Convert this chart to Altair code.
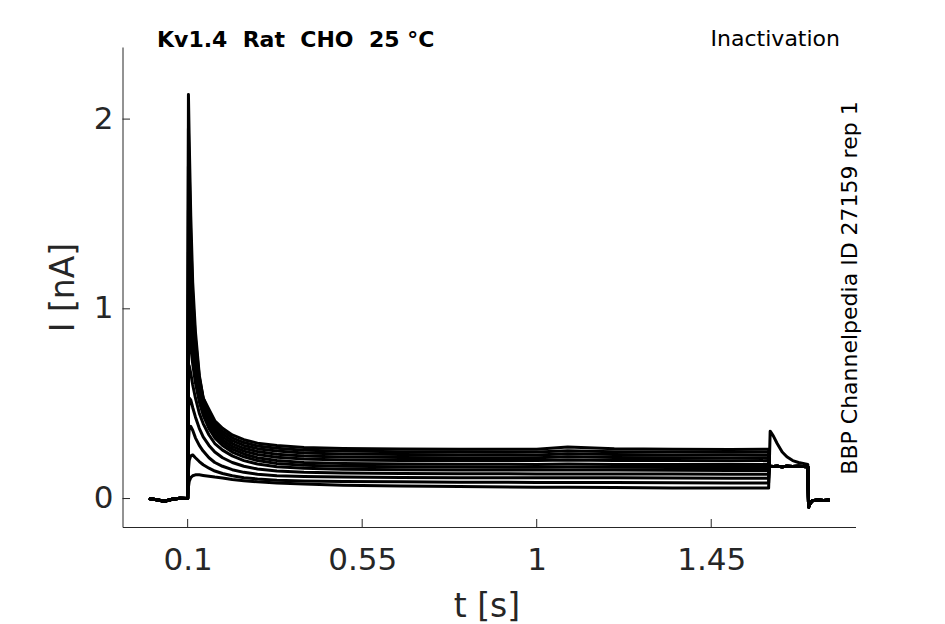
import altair as alt
import pandas as pd

# ---- data (time in s, current in nA) ----
T_BASE = [0.0, 0.02, 0.04, 0.06, 0.08, 0.099]
I_BASE = [0.0, -0.006, -0.014, -0.004, 0.002, 0.0]

T_STEP = [0.1, 0.102, 0.104, 0.108, 0.113, 0.12, 0.13, 0.14, 0.155, 0.17, 0.19,
          0.215, 0.245, 0.28, 0.33, 0.4, 0.5, 0.65, 0.8, 1.0, 1.08, 1.2, 1.35, 1.5, 1.598]

TR00 = [0.0, 2.13, 1.89, 1.49, 1.14, 0.88, 0.65, 0.53, 0.47, 0.41, 0.37, 0.335, 0.31, 0.292, 0.279, 0.269, 0.264, 0.261, 0.26, 0.26, 0.272, 0.262, 0.26, 0.259, 0.26]
TR01 = [0.0, 1.95, 1.74, 1.37, 1.07, 0.84, 0.64, 0.53, 0.455, 0.395, 0.355, 0.32, 0.295, 0.277, 0.265, 0.255, 0.25, 0.247, 0.246, 0.245, 0.252, 0.247, 0.245, 0.244, 0.245]
TR02 = [0.0, 1.75, 1.57, 1.26, 1.01, 0.80, 0.625, 0.525, 0.44, 0.385, 0.34, 0.305, 0.28, 0.263, 0.25, 0.24, 0.235, 0.232, 0.231, 0.23, 0.236, 0.232, 0.23, 0.229, 0.23]
TR03 = [0.0, 1.52, 1.38, 1.13, 0.93, 0.75, 0.60, 0.51, 0.425, 0.37, 0.325, 0.29, 0.265, 0.248, 0.234, 0.224, 0.219, 0.216, 0.215, 0.215, 0.22, 0.216, 0.215, 0.214, 0.215]
TR04 = [0.0, 1.30, 1.20, 1.02, 0.86, 0.71, 0.575, 0.49, 0.41, 0.355, 0.31, 0.275, 0.25, 0.232, 0.218, 0.208, 0.203, 0.201, 0.20, 0.20, 0.203, 0.20, 0.20, 0.199, 0.20]
TR05 = [0.0, 1.08, 1.03, 0.90, 0.78, 0.66, 0.545, 0.465, 0.39, 0.335, 0.295, 0.26, 0.235, 0.215, 0.20, 0.19, 0.185, 0.182, 0.181, 0.18, 0.182, 0.18, 0.18, 0.179, 0.18]
TR06 = [0.0, 0.86, 0.88, 0.80, 0.71, 0.61, 0.51, 0.44, 0.37, 0.32, 0.28, 0.245, 0.22, 0.20, 0.185, 0.176, 0.17, 0.167, 0.166, 0.165, 0.166, 0.165, 0.164, 0.164, 0.164]
TR07 = [0.0, 0.66, 0.70, 0.66, 0.60, 0.53, 0.45, 0.395, 0.335, 0.29, 0.255, 0.225, 0.20, 0.182, 0.168, 0.16, 0.155, 0.152, 0.151, 0.15, 0.15, 0.15, 0.149, 0.148, 0.148]
TR08 = [0.0, 0.46, 0.53, 0.52, 0.48, 0.43, 0.37, 0.325, 0.28, 0.245, 0.215, 0.19, 0.17, 0.156, 0.145, 0.138, 0.134, 0.132, 0.131, 0.13, 0.13, 0.13, 0.129, 0.128, 0.128]
TR09 = [0.0, 0.30, 0.37, 0.38, 0.36, 0.32, 0.28, 0.25, 0.215, 0.19, 0.17, 0.152, 0.138, 0.128, 0.12, 0.116, 0.113, 0.111, 0.11, 0.11, 0.11, 0.109, 0.108, 0.107, 0.107]
TR10 = [0.0, 0.15, 0.20, 0.225, 0.23, 0.215, 0.195, 0.178, 0.16, 0.145, 0.132, 0.12, 0.11, 0.103, 0.097, 0.093, 0.09, 0.088, 0.086, 0.085, 0.085, 0.084, 0.083, 0.082, 0.082]
TR11 = [0.0, 0.06, 0.09, 0.11, 0.12, 0.125, 0.125, 0.122, 0.118, 0.113, 0.108, 0.10, 0.094, 0.088, 0.082, 0.076, 0.07, 0.066, 0.063, 0.06, 0.06, 0.058, 0.056, 0.055, 0.055]
STEP_TRACES = [TR00, TR01, TR02, TR03, TR04, TR05, TR06, TR07, TR08, TR09, TR10, TR11]

T_TEST = [1.6, 1.602, 1.61, 1.62, 1.633, 1.645, 1.66, 1.675, 1.699]
I_TEST_FLAT = [0.168, 0.17, 0.169, 0.17, 0.168, 0.17, 0.169, 0.17, 0.168]
I_TEST_PEAK = [0.20, 0.355, 0.33, 0.29, 0.245, 0.22, 0.20, 0.19, 0.18]

T_TAIL = [1.701, 1.704, 1.71, 1.725, 1.74, 1.755]
I_TAIL = [-0.045, -0.03, -0.012, -0.008, -0.01, -0.008]

X_TICKS = [0.1, 0.55, 1, 1.45]
Y_TICKS = [0, 1, 2]

TITLE_LEFT = "Kv1.4\u00a0\u00a0Rat\u00a0\u00a0CHO\u00a0\u00a025\u00a0°C"
TITLE_RIGHT = "Inactivation"
SIDE_TEXT = "BBP Channelpedia ID 27159 rep 1"

# ---- build the table ----
rows = []
for k, step in enumerate(STEP_TRACES):
    test = I_TEST_PEAK if k == len(STEP_TRACES) - 1 else I_TEST_FLAT
    ts = T_BASE + T_STEP + T_TEST + T_TAIL
    vs = I_BASE + step + test + I_TAIL
    for t, v in zip(ts, vs):
        rows.append({"trace": k, "t": t, "i": v})
df = pd.DataFrame(rows)

W, H = 733, 480
INK = "#262626"
FONT = "DejaVu Sans"

xscale = alt.Scale(domain=[-0.068, 1.822], nice=False, zero=False)
yscale = alt.Scale(domain=[-0.15, 2.38], nice=False, zero=False)

lines = alt.Chart(df).mark_line(color="black", strokeWidth=3, strokeJoin="round").encode(
    x=alt.X("t:Q", scale=xscale,
            axis=alt.Axis(values=X_TICKS, format=".3~g", title="t [s]", grid=False,
                          ticks=False, tickSize=0, domainColor=INK, domainWidth=1,
                          labelFont=FONT, labelFontSize=31, labelColor=INK,
                          labelPadding=18, labelFontWeight="normal",
                          titleFont=FONT, titleFontSize=33, titleColor=INK,
                          titleFontWeight="normal", titleBaseline="alphabetic",
                          titleX=364, titleY=89)),
    y=alt.Y("i:Q", scale=yscale,
            axis=alt.Axis(values=Y_TICKS, format=".3~g", title="I [nA]", grid=False,
                          ticks=False, tickSize=0, domainColor=INK, domainWidth=1,
                          labelFont=FONT, labelFontSize=31, labelColor=INK,
                          labelPadding=9.5, labelFontWeight="normal",
                          titleFont=FONT, titleFontSize=33, titleColor=INK,
                          titleFontWeight="normal", titleBaseline="alphabetic",
                          titleAngle=270, titleX=-49, titleY=240)),
    detail="trace:N",
)

xt = alt.Chart(pd.DataFrame({"v": X_TICKS})).mark_rule(color=INK, strokeWidth=1).encode(
    x=alt.X("v:Q", scale=xscale), y=alt.value(H), y2=alt.value(H - 8))
yt = alt.Chart(pd.DataFrame({"v": Y_TICKS})).mark_rule(color=INK, strokeWidth=1).encode(
    y=alt.Y("v:Q", scale=yscale), x=alt.value(0), x2=alt.value(7.5))

t1 = alt.Chart(pd.DataFrame({"s": [TITLE_LEFT]})).mark_text(
    font=FONT, fontSize=22, fontWeight="bold", color="black", align="left",
    baseline="alphabetic").encode(text="s:N", x=alt.value(34.5), y=alt.value(-0.5))
t2 = alt.Chart(pd.DataFrame({"s": [TITLE_RIGHT]})).mark_text(
    font=FONT, fontSize=22, color="black", align="right",
    baseline="alphabetic").encode(text="s:N", x=alt.value(717.5), y=alt.value(-1))
t3 = alt.Chart(pd.DataFrame({"s": [SIDE_TEXT]})).mark_text(
    font=FONT, fontSize=22, color="black", align="center", angle=270,
    baseline="alphabetic").encode(text="s:N", x=alt.value(734), y=alt.value(241))

chart = alt.layer(lines, xt, yt, t1, t2, t3).properties(
    width=W, height=H,
    autosize=alt.AutoSizeParams(type="none"),
    padding={"left": 114.5, "top": 39, "right": 80, "bottom": 96},
    background="white",
).configure_view(stroke=None)

chart.save("out.html", embed_options={"renderer": "svg", "actions": False})
